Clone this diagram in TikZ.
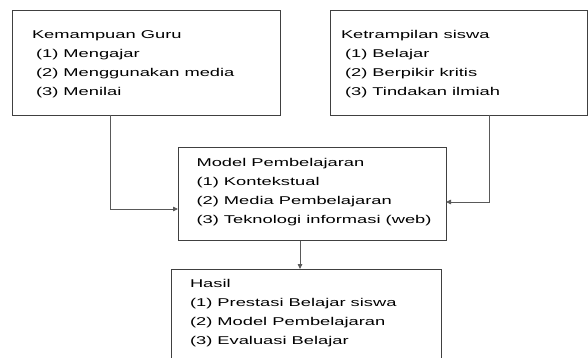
\documentclass[tikz,border=0pt]{standalone}
\usepackage{fontspec}
\setmainfont[FakeStretch=1.62]{Liberation Sans}
\usetikzlibrary{arrows.meta}
\begin{document}
\begin{tikzpicture}[x=1pt,y=-1pt,
  box/.style={draw=black!75,line width=0.8pt,inner sep=0pt,outer sep=0pt,anchor=north west},
  txt/.style={anchor=base west,inner sep=0pt,outer sep=0pt,align=left,font=\fontsize{11.3}{19}\selectfont},
  conn/.style={draw=black!65,line width=0.8pt,-{Triangle[length=5pt,width=4.5pt]}}]
\useasboundingbox (0,0) rectangle (588,358);
\clip (0,0) rectangle (588,358);
\node[box,minimum width=268pt,minimum height=105pt] (guru) at (12,10) {};
\node[box,minimum width=257pt,minimum height=105pt] (ketr) at (330.5,10) {};
\node[box,minimum width=268pt,minimum height=93pt] (model) at (178,147.5) {};
\node[box,minimum width=270pt,minimum height=100pt] (hasil) at (171,269) {};
% anchor base = baseline of the last line
\node[txt] (guruT) at (32,95.5) {Kemampuan Guru\\\hspace*{4pt}(1) Mengajar\\\hspace*{4pt}(2) Menggunakan media\\\hspace*{4pt}(3) Menilai};
\node[txt] (ketrT) at (341,95.5) {Ketrampilan siswa\\\hspace*{4pt}(1) Belajar\\\hspace*{4pt}(2) Berpikir kritis\\\hspace*{4pt}(3) Tindakan ilmiah};
\node[txt] (modelT) at (196.5,223) {Model Pembelajaran\\(1) Kontekstual\\(2) Media Pembelajaran\\(3) Teknologi informasi (web)};
\node[txt] (hasilT) at (190,344) {Hasil\\(1) Prestasi Belajar siswa\\(2) Model Pembelajaran\\(3) Evaluasi Belajar};
\draw[conn] ([xshift=98pt]guru.south west) |- ([yshift=-15pt]model.west);
\draw[conn] ([xshift=158.5pt]ketr.south west) |- ([yshift=-8pt]model.east);
\draw[conn] ([xshift=122pt]model.south west) -- ([xshift=129pt]hasil.north west);
\end{tikzpicture}
\end{document}
